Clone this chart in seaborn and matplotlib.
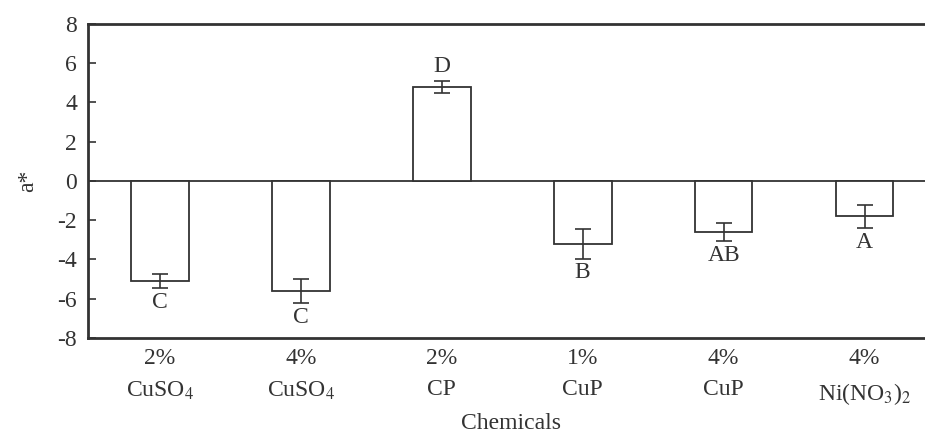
import matplotlib
matplotlib.use("Agg")
import matplotlib.pyplot as plt
import seaborn as sns
import pandas as pd

categories = ["2%\nCuSO$_4$", "4%\nCuSO$_4$", "2%\nCP", "1%\nCuP", "4%\nCuP", "4%\nNi(NO$_3$)$_2$"]
values = [-5.1, -5.6, 4.8, -3.2, -2.6, -1.8]
errors = [0.35, 0.6, 0.3, 0.75, 0.45, 0.6]
letters = ["C", "C", "D", "B", "AB", "A"]
yticks = [-8, -6, -4, -2, 0, 2, 4, 6, 8]

sns.set_style("ticks")
plt.rcParams["font.family"] = ["Liberation Serif", "DejaVu Serif"]
plt.rcParams["mathtext.fontset"] = "stix"

ink = "#333333"
fs = 17
df = pd.DataFrame({"cat": categories, "val": values})

fig = plt.figure(figsize=(9.25, 4.37), dpi=100)
ax = fig.add_axes([88/925, 1-338/437, (935-88)/925, (338-24)/437])

sns.barplot(data=df, x="cat", y="val", order=categories, ax=ax, color="white",
            edgecolor=ink, linewidth=1.3, width=0.41, errorbar=None)
xs = list(range(len(categories)))
ax.errorbar(xs, values, yerr=errors, fmt="none", ecolor=ink, elinewidth=1.2,
            capsize=6, capthick=1.2)

for x, v, e, t in zip(xs, values, errors, letters):
    if v >= 0:
        ax.text(x, v + e + 0.2, t, ha="center", va="bottom", fontsize=fs, color=ink)
    else:
        ax.text(x, v - e - 0.2, t, ha="center", va="top", fontsize=fs, color=ink)

ax.axhline(0, color=ink, lw=1.3, zorder=0.5)
ax.set_ylim(-8, 8)
ax.set_xlim(-0.51, 5.5)
ax.set_yticks(yticks)
ax.set_yticklabels([str(t) for t in yticks])
ax.tick_params(axis="y", direction="in", length=6, width=1.2, colors=ink, labelsize=fs, pad=8)
ax.tick_params(axis="x", length=0, labelsize=fs, colors=ink, pad=7)
for lab in ax.get_xticklabels():
    lab.set_linespacing(1.65)
ax.set_xlabel("Chemicals", fontsize=fs, color=ink, labelpad=4)
ax.set_ylabel("a*", fontsize=fs, color=ink, labelpad=14)
for s in ["left", "top", "bottom", "right"]:
    ax.spines[s].set_color(ink)
    ax.spines[s].set_linewidth(2)

fig.savefig("out.png", dpi=100, facecolor="white")
